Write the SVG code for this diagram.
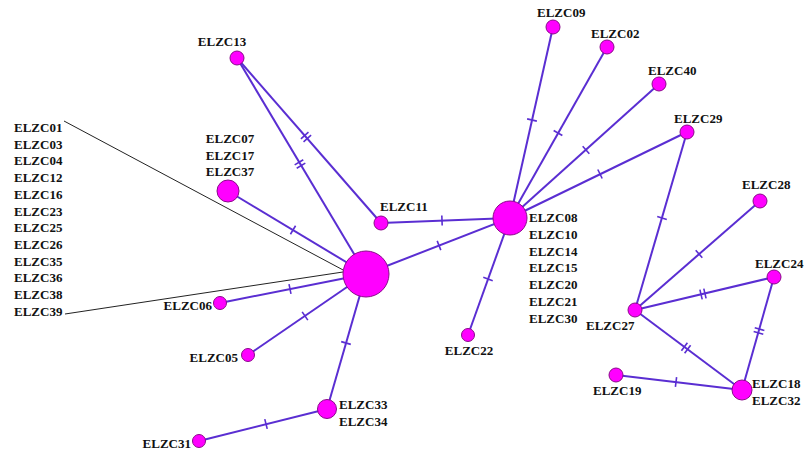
<svg xmlns="http://www.w3.org/2000/svg" width="807" height="456" viewBox="0 0 807 456">
<style>
.e{stroke:#5a2ed2;stroke-width:2;fill:none}
.t{stroke:#5a2ed2;stroke-width:1.6}
.n{fill:#ff00ff;stroke:#8a0a8a;stroke-width:1}
.l{font-family:"Liberation Serif","Times New Roman",serif;font-weight:bold;font-size:13px;fill:#111}
.k{stroke:#222;stroke-width:1;fill:none}
</style>
<defs>
<g id="tk"><line class="t" x1="0" y1="-5" x2="0" y2="5"/></g>
<g id="dtk"><line class="t" x1="-2" y1="-5" x2="-2" y2="5"/><line class="t" x1="2" y1="-5" x2="2" y2="5"/></g>
</defs>
<rect width="807" height="456" fill="#fff"/>
<g id="connectors">
<line class="k" x1="64" y1="121" x2="345" y2="271"/>
<line class="k" x1="65" y1="314" x2="343" y2="272"/>
<line class="e" x1="366" y1="274" x2="237" y2="58"/>
<line class="e" x1="237" y1="58" x2="381" y2="223"/>
<line class="e" x1="366" y1="274" x2="228" y2="191"/>
<line class="e" x1="381" y1="223" x2="510" y2="218"/>
<line class="e" x1="366" y1="274" x2="510" y2="218"/>
<line class="e" x1="366" y1="274" x2="220" y2="303"/>
<line class="e" x1="366" y1="274" x2="248" y2="355"/>
<line class="e" x1="366" y1="274" x2="327" y2="409"/>
<line class="e" x1="327" y1="409" x2="199" y2="441"/>
<line class="e" x1="510" y1="218" x2="553" y2="27"/>
<line class="e" x1="510" y1="218" x2="607" y2="47"/>
<line class="e" x1="510" y1="218" x2="659" y2="84"/>
<line class="e" x1="510" y1="218" x2="687" y2="132"/>
<line class="e" x1="510" y1="218" x2="468" y2="335"/>
<line class="e" x1="687" y1="132" x2="635" y2="310"/>
<line class="e" x1="635" y1="310" x2="760" y2="201"/>
<line class="e" x1="635" y1="310" x2="774" y2="277"/>
<line class="e" x1="635" y1="310" x2="742" y2="390"/>
<line class="e" x1="774" y1="277" x2="742" y2="390"/>
<line class="e" x1="616" y1="375" x2="742" y2="390"/>
<use href="#dtk" transform="translate(300,164) rotate(59.2)"/>
<use href="#dtk" transform="translate(306,137) rotate(48.9)"/>
<use href="#tk" transform="translate(293,230) rotate(31)"/>
<use href="#tk" transform="translate(442,220.5) rotate(-2.2)"/>
<use href="#tk" transform="translate(439,245.5) rotate(-21.3)"/>
<use href="#tk" transform="translate(290,289) rotate(-11.2)"/>
<use href="#tk" transform="translate(305,316) rotate(-34.5)"/>
<use href="#tk" transform="translate(346,343) rotate(-73.9)"/>
<use href="#tk" transform="translate(266,424) rotate(-14)"/>
<use href="#tk" transform="translate(532,120) rotate(-77.3)"/>
<use href="#tk" transform="translate(558,133) rotate(-60.4)"/>
<use href="#tk" transform="translate(586,150) rotate(-42)"/>
<use href="#tk" transform="translate(600,174) rotate(-25.9)"/>
<use href="#tk" transform="translate(488,279) rotate(109.7)"/>
<use href="#tk" transform="translate(662,218) rotate(106.3)"/>
<use href="#tk" transform="translate(699,254) rotate(-41.1)"/>
<use href="#dtk" transform="translate(703,294) rotate(-13.4)"/>
<use href="#dtk" transform="translate(686,348) rotate(36.8)"/>
<use href="#dtk" transform="translate(759,331) rotate(105.8)"/>
<use href="#tk" transform="translate(676,382) rotate(6.8)"/>
</g>
<g id="hub1">
<circle class="n" cx="366" cy="274" r="23"/>
<text class="l" x="14" y="132">ELZC01</text>
<text class="l" x="14" y="148.7">ELZC03</text>
<text class="l" x="14" y="165.4">ELZC04</text>
<text class="l" x="14" y="182.1">ELZC12</text>
<text class="l" x="14" y="198.8">ELZC16</text>
<text class="l" x="14" y="215.5">ELZC23</text>
<text class="l" x="14" y="232.2">ELZC25</text>
<text class="l" x="14" y="248.9">ELZC26</text>
<text class="l" x="14" y="265.6">ELZC35</text>
<text class="l" x="14" y="282.3">ELZC36</text>
<text class="l" x="14" y="299">ELZC38</text>
<text class="l" x="14" y="315.7">ELZC39</text>
</g>
<g id="hub2">
<circle class="n" cx="510" cy="218" r="17"/>
<text class="l" x="529" y="222">ELZC08</text>
<text class="l" x="529" y="238.8">ELZC10</text>
<text class="l" x="529" y="255.6">ELZC14</text>
<text class="l" x="529" y="272.4">ELZC15</text>
<text class="l" x="529" y="289.2">ELZC20</text>
<text class="l" x="529" y="306">ELZC21</text>
<text class="l" x="529" y="322.8">ELZC30</text>
</g>
<g id="n13"><circle class="n" cx="237" cy="58" r="7"/><text class="l" x="222" y="46" text-anchor="middle">ELZC13</text></g>
<g id="n07"><circle class="n" cx="228" cy="191" r="11"/><text class="l" x="230" y="143" text-anchor="middle">ELZC07</text><text class="l" x="230" y="159.5" text-anchor="middle">ELZC17</text><text class="l" x="230" y="176" text-anchor="middle">ELZC37</text></g>
<g id="n11"><circle class="n" cx="381" cy="223" r="7"/><text class="l" x="380" y="211">ELZC11</text></g>
<g id="n06"><circle class="n" cx="220" cy="303" r="6.5"/><text class="l" x="212" y="310" text-anchor="end">ELZC06</text></g>
<g id="n05"><circle class="n" cx="248" cy="355" r="6.5"/><text class="l" x="238" y="362" text-anchor="end">ELZC05</text></g>
<g id="n33"><circle class="n" cx="327" cy="409" r="9.5"/><text class="l" x="339" y="409">ELZC33</text><text class="l" x="339" y="426">ELZC34</text></g>
<g id="n31"><circle class="n" cx="199" cy="441" r="6.5"/><text class="l" x="191" y="448" text-anchor="end">ELZC31</text></g>
<g id="n09"><circle class="n" cx="553" cy="27" r="7"/><text class="l" x="537" y="17">ELZC09</text></g>
<g id="n02"><circle class="n" cx="607" cy="47" r="7"/><text class="l" x="591" y="38">ELZC02</text></g>
<g id="n40"><circle class="n" cx="659" cy="84" r="7"/><text class="l" x="648" y="75">ELZC40</text></g>
<g id="n29"><circle class="n" cx="687" cy="132" r="7"/><text class="l" x="674" y="123">ELZC29</text></g>
<g id="n22"><circle class="n" cx="468" cy="335" r="6.5"/><text class="l" x="469" y="355" text-anchor="middle">ELZC22</text></g>
<g id="n27"><circle class="n" cx="635" cy="310" r="7"/><text class="l" x="586" y="330">ELZC27</text></g>
<g id="n28"><circle class="n" cx="760" cy="201" r="7"/><text class="l" x="742" y="189">ELZC28</text></g>
<g id="n24"><circle class="n" cx="774" cy="277" r="7"/><text class="l" x="755" y="268">ELZC24</text></g>
<g id="n18"><circle class="n" cx="742" cy="390" r="10"/><text class="l" x="752" y="388">ELZC18</text><text class="l" x="752" y="405">ELZC32</text></g>
<g id="n19"><circle class="n" cx="616" cy="375" r="7"/><text class="l" x="593" y="395">ELZC19</text></g>
</svg>
